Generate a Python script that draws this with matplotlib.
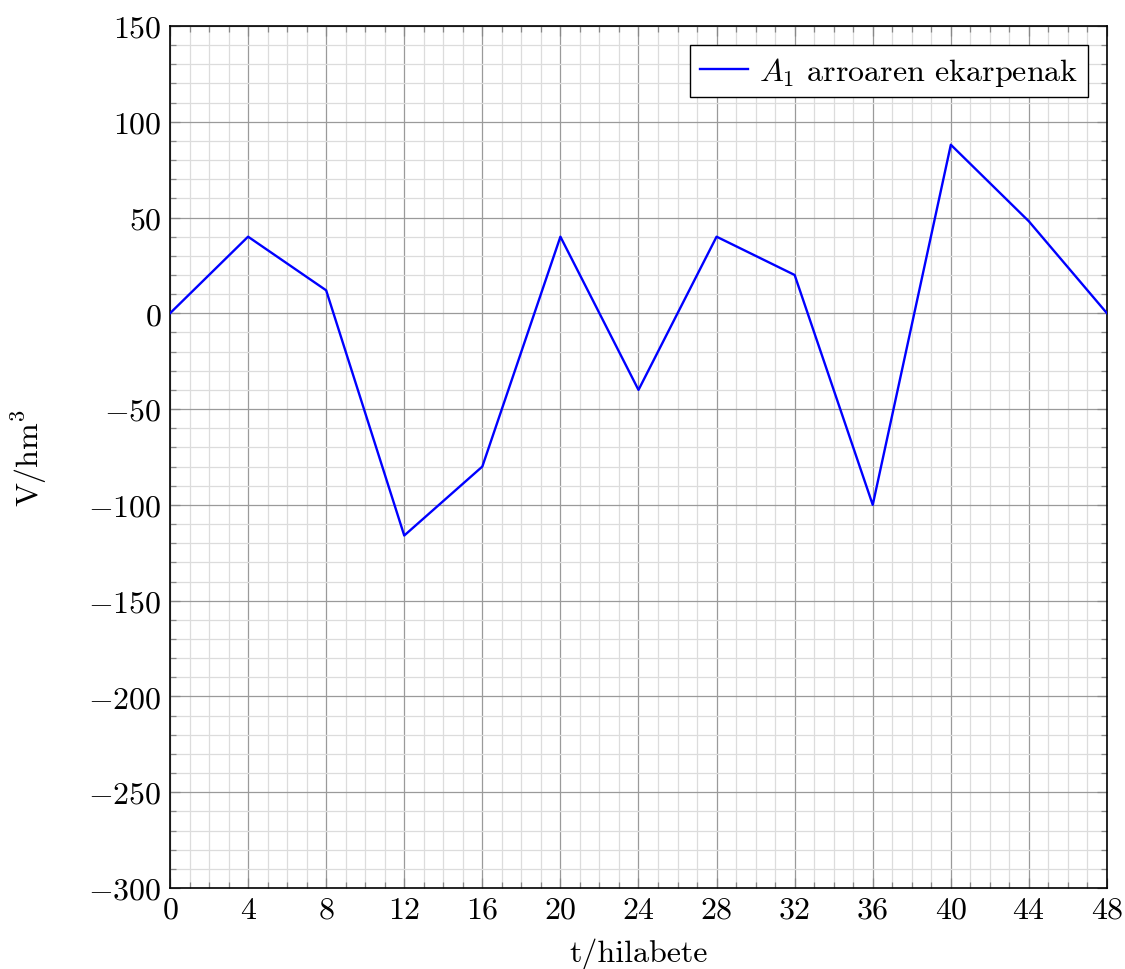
import numpy as np
import matplotlib.pyplot as plt
from matplotlib.ticker import MultipleLocator

plt.rcParams['font.family'] = 'serif'
plt.rcParams['font.serif'] = ['cmr10']
plt.rcParams['mathtext.fontset'] = 'cm'
plt.rcParams['axes.formatter.use_mathtext'] = True
plt.rcParams['font.size'] = 23

t = [0, 4, 8, 12, 16, 20, 24, 28, 32, 36, 40, 44, 48]
V = [0, 40, 12, -116, -80, 40, -40, 40, 20, -100, 88, 48, 0]

fig = plt.figure(figsize=(11.25, 9.7), dpi=100)
ax = fig.add_axes([0.1511, 0.0835, 0.8329, 0.8887])

ax.plot(t, V, color='blue', lw=1.7, label=r'$A_1$ arroaren ekarpenak', zorder=3)

ax.set_xlim(0, 48)
ax.set_ylim(-300, 150)
ax.xaxis.set_major_locator(MultipleLocator(4))
ax.xaxis.set_minor_locator(MultipleLocator(1))
ax.yaxis.set_major_locator(MultipleLocator(50))
ax.yaxis.set_minor_locator(MultipleLocator(10))

ax.grid(which='major', color='#9a9a9a', lw=0.9)
ax.grid(which='minor', color='#dcdcdc', lw=0.9)
ax.set_axisbelow(True)

ax.tick_params(which='both', direction='in', top=True, right=True,
               color='#888888', pad=6)
ax.tick_params(which='major', length=7, width=0.9)
ax.tick_params(which='minor', length=4, width=0.9)
for s in ax.spines.values():
    s.set_linewidth(1.2)

ax.set_xlabel('t/hilabete', labelpad=10)
ax.set_ylabel(r'V/hm$^3$', labelpad=28)

leg = ax.legend(loc='upper right', fancybox=False, framealpha=1,
                edgecolor='black', handlelength=1.5, handletextpad=0.35,
                borderpad=0.3, borderaxespad=0.6)
leg.get_frame().set_linewidth(1.0)

fig.savefig('out.png', dpi=100)
